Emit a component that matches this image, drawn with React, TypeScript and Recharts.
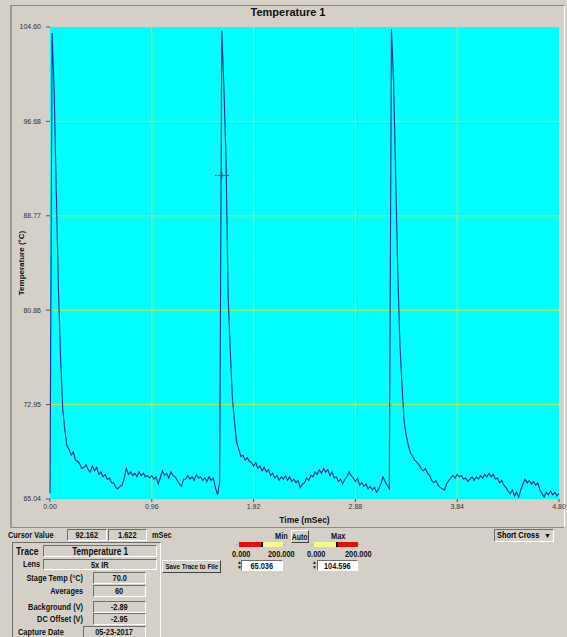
import React from 'react';
import { LineChart, Line, XAxis, YAxis, CartesianGrid, ReferenceDot } from 'recharts';

// trace samples, 0.02 ms apart
const timeMs = [
  0.0, 0.02, 0.04, 0.06, 0.08, 0.1, 0.12, 0.14, 0.16, 0.18,
  0.2, 0.22, 0.24, 0.26, 0.28, 0.3, 0.32, 0.34, 0.36, 0.38,
  0.4, 0.42, 0.44, 0.46, 0.48, 0.5, 0.52, 0.54, 0.56, 0.58,
  0.6, 0.62, 0.64, 0.66, 0.68, 0.7, 0.72, 0.74, 0.76, 0.78,
  0.8, 0.82, 0.84, 0.86, 0.88, 0.9, 0.92, 0.94, 0.96, 0.98,
  1.0, 1.02, 1.04, 1.06, 1.08, 1.1, 1.12, 1.14, 1.16, 1.18,
  1.2, 1.22, 1.24, 1.26, 1.28, 1.3, 1.32, 1.34, 1.36, 1.38,
  1.4, 1.42, 1.44, 1.46, 1.48, 1.5, 1.52, 1.54, 1.56, 1.58,
  1.6, 1.62, 1.64, 1.66, 1.68, 1.7, 1.72, 1.74, 1.76, 1.78,
  1.8, 1.82, 1.84, 1.86, 1.88, 1.9, 1.92, 1.94, 1.96, 1.98,
  2.0, 2.02, 2.04, 2.06, 2.08, 2.1, 2.12, 2.14, 2.16, 2.18,
  2.2, 2.22, 2.24, 2.26, 2.28, 2.3, 2.32, 2.34, 2.36, 2.38,
  2.4, 2.42, 2.44, 2.46, 2.48, 2.5, 2.52, 2.54, 2.56, 2.58,
  2.6, 2.62, 2.64, 2.66, 2.68, 2.7, 2.72, 2.74, 2.76, 2.78,
  2.8, 2.82, 2.84, 2.86, 2.88, 2.9, 2.92, 2.94, 2.96, 2.98,
  3.0, 3.02, 3.04, 3.06, 3.08, 3.1, 3.12, 3.14, 3.16, 3.18,
  3.2, 3.22, 3.24, 3.26, 3.28, 3.3, 3.32, 3.34, 3.36, 3.38,
  3.4, 3.42, 3.44, 3.46, 3.48, 3.5, 3.52, 3.54, 3.56, 3.58,
  3.6, 3.62, 3.64, 3.66, 3.68, 3.7, 3.72, 3.74, 3.76, 3.78,
  3.8, 3.82, 3.84, 3.86, 3.88, 3.9, 3.92, 3.94, 3.96, 3.98,
  4.0, 4.02, 4.04, 4.06, 4.08, 4.1, 4.12, 4.14, 4.16, 4.18,
  4.2, 4.22, 4.24, 4.26, 4.28, 4.3, 4.32, 4.34, 4.36, 4.38,
  4.4, 4.42, 4.44, 4.46, 4.48, 4.5, 4.52, 4.54, 4.56, 4.58,
  4.6, 4.62, 4.64, 4.66, 4.68, 4.7, 4.72, 4.74, 4.76, 4.78,
  4.8,
];

const temperatureC = [
  65.5, 104.1, 99.0, 90.5, 82.5, 76.8, 72.6, 70.8, 69.5, 69.2,
  68.7, 69.0, 68.3, 68.2, 68.0, 67.6, 67.7, 67.9, 67.5, 67.3,
  67.8, 67.4, 67.7, 67.1, 67.3, 66.9, 67.1, 66.7, 66.8, 66.4,
  66.4, 66.0, 65.9, 66.1, 66.2, 66.8, 67.6, 67.1, 67.3, 67.0,
  67.2, 66.9, 67.3, 67.0, 67.2, 66.9, 67.0, 66.8, 67.0, 66.7,
  66.9, 66.3, 66.8, 67.4, 67.0, 67.2, 66.8, 67.3, 67.0, 66.9,
  66.6, 66.3, 66.1, 66.7, 66.7, 67.0, 66.7, 66.9, 66.6, 67.1,
  66.8, 66.9, 66.6, 66.8, 66.5, 66.9, 66.6, 66.8, 66.0, 65.4,
  66.4, 104.3, 99.5, 93.5, 82.0, 77.5, 73.5, 71.5, 69.8, 69.2,
  68.6, 68.7, 68.3, 68.5, 68.2, 68.1, 67.8, 68.1, 67.6, 67.8,
  67.4, 67.7, 67.3, 67.5, 67.0, 67.2, 66.8, 67.0, 66.6, 66.9,
  66.7, 67.0, 66.6, 66.9, 66.5, 66.7, 66.4, 66.6, 66.0, 66.3,
  66.4, 66.8, 66.6, 67.0, 66.9, 67.3, 67.1, 67.5, 67.2, 67.6,
  67.3, 67.5, 67.0, 67.3, 66.8, 66.9, 66.5, 66.7, 66.3, 66.7,
  66.9, 67.3, 67.0, 66.8, 66.5, 66.8, 66.2, 66.4, 66.1, 66.3,
  65.9, 66.1, 65.8, 66.0, 65.6, 65.9, 66.3, 66.9, 66.5, 66.2,
  65.9, 104.4, 100.0, 92.0, 84.0, 78.0, 74.5, 71.5, 70.3, 69.5,
  68.9, 68.6, 68.3, 68.1, 67.9, 67.6, 67.4, 67.6, 67.2, 67.0,
  66.6, 66.4, 66.6, 66.2, 66.0, 65.9, 65.8, 66.3, 66.6, 66.8,
  67.0, 66.8, 67.1, 66.9, 67.0, 66.7, 66.8, 66.5, 66.7, 66.9,
  66.6, 66.9, 66.7, 67.0, 66.8, 67.1, 66.9, 67.2, 66.9, 67.1,
  66.7, 66.8, 66.4, 66.6, 66.2, 66.0, 65.7, 65.5, 65.8, 65.3,
  65.6, 65.2, 65.8, 66.3, 66.7, 66.4, 66.6, 66.3, 66.5, 66.2,
  66.4, 65.8, 65.5, 65.2, 65.6, 65.4, 65.7, 65.4, 65.6, 65.3,
  65.5,
];

const xTicks = [0, 0.96, 1.92, 2.88, 3.84, 4.8];
const xTickLabels = ['0.00', '0.96', '1.92', '2.88', '3.84', '4.80'];
const yTicks = [65.04, 72.952, 80.864, 88.776, 96.688, 104.6];
const yTickLabels = ['65.04', '72.95', '80.86', '88.77', '96.68', '104.60'];

const cursorTemp = 92.162;
const cursorTime = 1.622;
const traceName = 'Temperature 1';
const lensName = '5x IR';
const traceFields = [
  { label: 'Stage Temp  (°C)', value: '70.0' },
  { label: 'Averages', value: '60' },
  { label: 'Background (V)', value: '-2.89' },
  { label: 'DC Offset (V)', value: '-2.95' },
];
const captureDate = '05-23-2017';
const scaleMin = '65.036';
const scaleMax = '104.596';
const sliderRange = ['0.000', '200.000'];

const chartData = timeMs.map((t, i) => ({ t, temp: temperatureC[i] }));

const FONT = '"Liberation Sans", Arial, sans-serif';
const BG = '#d4d0c8';
const SQUEEZE = 'scaleX(0.82)';

const sunken: React.CSSProperties = {
  position: 'absolute',
  boxSizing: 'border-box',
  borderTop: '1px solid #6e6e6e',
  borderLeft: '1px solid #6e6e6e',
  borderBottom: '1px solid #ffffff',
  borderRight: '1px solid #ffffff',
};
const raised: React.CSSProperties = {
  position: 'absolute',
  boxSizing: 'border-box',
  borderTop: '1px solid #ffffff',
  borderLeft: '1px solid #ffffff',
  borderBottom: '1px solid #404040',
  borderRight: '1px solid #404040',
  background: BG,
  display: 'flex',
  alignItems: 'center',
  justifyContent: 'center',
  fontWeight: 'bold',
  whiteSpace: 'nowrap',
  color: '#111',
};

// narrow bold text, like the old windows dialog font
function Txt({ x, y, children, size = 9, right }: any) {
  return (
    <div
      style={{
        position: 'absolute',
        left: right ? undefined : x,
        right: right ? 567 - x : undefined,
        top: y,
        fontSize: size,
        fontWeight: 'bold',
        lineHeight: '11px',
        whiteSpace: 'nowrap',
        color: '#111',
        transform: SQUEEZE,
        transformOrigin: right ? 'right center' : 'left center',
      }}
    >
      {children}
    </div>
  );
}

function Field({ x, y, w, h = 12, children, bg, size = 9 }: any) {
  return (
    <div
      style={{
        ...sunken,
        left: x,
        top: y,
        width: w,
        height: h,
        background: bg ?? 'transparent',
        fontSize: size,
        fontWeight: 'bold',
        display: 'flex',
        alignItems: 'center',
        justifyContent: 'center',
        color: '#111',
        whiteSpace: 'nowrap',
      }}
    >
      <span style={{ display: 'inline-block', transform: SQUEEZE }}>{children}</span>
    </div>
  );
}

function Slider({ x, colors }: { x: number; colors: string[] }) {
  return (
    <div style={{ position: 'absolute', left: x, top: 541, width: 50, height: 6, display: 'flex', alignItems: 'center' }}>
      <span style={{ fontSize: 6, color: '#999', width: 3 }}>‹</span>
      <div style={{ width: 22, height: 5, background: colors[0] }} />
      <div style={{ width: 2, height: 5, background: '#000' }} />
      <div style={{ width: 20, height: 5, background: colors[1] }} />
      <span style={{ fontSize: 6, color: '#999', width: 3 }}>›</span>
    </div>
  );
}

function Spinner({ x }: { x: number }) {
  return (
    <div style={{ position: 'absolute', left: x, top: 560, width: 4, height: 11, fontSize: 5, lineHeight: '5px', color: '#222' }}>
      ▲<br />▼
    </div>
  );
}

const CursorCross = (props: any) => {
  const { cx, cy } = props;
  return (
    <g stroke="#7a4a3a" strokeWidth={1}>
      <line x1={cx - 7} y1={cy} x2={cx + 7} y2={cy} />
      <line x1={cx} y1={cy - 3} x2={cx} y2={cy + 3} />
    </g>
  );
};

export default function App() {
  const fieldTops = [572, 585, 601, 613];
  return (
    <div style={{ position: 'fixed', left: 0, top: 0, width: 567, height: 637, background: BG, overflow: 'hidden', fontFamily: FONT }}>
      {/* chart frame */}
      <div style={{ position: 'absolute', left: 10, top: 5, width: 555, height: 523, boxSizing: 'border-box', borderTop: '1px solid #8a8a8a', borderLeft: '2px solid #9a9a9a', borderBottom: '1px solid #8a8a8a', borderRight: '1px solid #ffffff' }} />
      <div style={{ position: 'absolute', left: 0, width: 576, top: 6, textAlign: 'center', fontSize: 11, fontWeight: 'bold', color: '#111' }}>
        {traceName}
      </div>

      <div style={{ position: 'absolute', left: 0, top: 0 }}>
        <LineChart width={567} height={530} data={chartData} margin={{ top: 27, right: 8, bottom: 0, left: 0 }}>
          <CartesianGrid
            fill="#00ffff"
            stroke="#d2e034"
            horizontalValues={yTicks.slice(1, -1)}
            verticalValues={xTicks.slice(1, -1)}
          />
          <XAxis
            dataKey="t"
            type="number"
            domain={[0, 4.8]}
            ticks={xTicks}
            tickFormatter={(v: number, i: number) => xTickLabels[i]}
            height={31}
            axisLine={false}
            tickSize={3}
            tickMargin={2}
            tickLine={{ stroke: '#555' }}
            tick={{ fontSize: 7, fill: '#333', fontFamily: FONT }}
            label={{ value: 'Time (mSec)', position: 'insideBottom', offset: 7, style: { fontSize: 8.5, fontWeight: 'bold', fill: '#111', fontFamily: FONT } }}
          />
          <YAxis
            type="number"
            domain={[65.04, 104.6]}
            ticks={yTicks}
            tickFormatter={(v: number, i: number) => yTickLabels[i]}
            width={50}
            axisLine={false}
            tickSize={4}
            tickMargin={5}
            tickLine={{ stroke: '#555' }}
            tick={{ fontSize: 7, fill: '#333', fontFamily: FONT }}
            label={{ value: 'Temperature (°C)', angle: -90, position: 'center', dx: -4, style: { fontSize: 8, fontWeight: 'bold', fill: '#111', fontFamily: FONT } }}
          />
          <Line
            type="linear"
            dataKey="temp"
            stroke="#28289a"
            strokeWidth={1.1}
            dot={false}
            isAnimationActive={false}
          />
          <ReferenceDot x={cursorTime} y={cursorTemp} r={3} shape={CursorCross} ifOverflow="visible" />
        </LineChart>
      </div>

      {/* cursor row */}
      <Txt x={8} y={530}>Cursor Value</Txt>
      <Field x={67} y={529} w={40}>{cursorTemp.toFixed(3)}</Field>
      <Field x={108} y={529} w={39}>{cursorTime.toFixed(3)}</Field>
      <Txt x={152} y={530}>mSec</Txt>

      <Txt x={275} y={531}>Min</Txt>
      <div style={{ ...raised, left: 291, top: 530, width: 18, height: 13, fontSize: 8.5 }}>
        <span style={{ display: 'inline-block', transform: SQUEEZE }}>Auto</span>
      </div>
      <Txt x={331} y={531}>Max</Txt>

      <Slider x={236} colors={['#e01010', '#f8f890']} />
      <Slider x={311} colors={['#f8f890', '#e01010']} />
      <Txt x={232} y={549}>{sliderRange[0]}</Txt>
      <Txt x={268} y={549}>{sliderRange[1]}</Txt>
      <Txt x={307} y={549}>{sliderRange[0]}</Txt>
      <Txt x={345} y={549}>{sliderRange[1]}</Txt>
      <Spinner x={237} />
      <Field x={241} y={560} w={42} h={11} bg="#ffffff">{scaleMin}</Field>
      <Spinner x={312} />
      <Field x={317} y={560} w={41} h={11} bg="#ffffff">{scaleMax}</Field>

      <div style={{ ...raised, left: 162, top: 560, width: 59, height: 13, fontSize: 8 }}>
        <span style={{ display: 'inline-block', transform: 'scaleX(0.78)' }}>Save Trace to File</span>
      </div>

      <div style={{ ...sunken, left: 494, top: 529, width: 60, height: 13, background: BG, fontSize: 9, fontWeight: 'bold', lineHeight: '11px', paddingLeft: 2, whiteSpace: 'nowrap' }}>
        <span style={{ display: 'inline-block', transform: SQUEEZE, transformOrigin: 'left center' }}>Short Cross</span>
        <span style={{ position: 'absolute', right: 2, top: 0, fontSize: 7 }}>▼</span>
      </div>

      {/* trace panel */}
      <div style={{ ...sunken, left: 12, top: 542, width: 149, height: 110 }} />
      <Txt x={16} y={546} size={10.5}>Trace</Txt>
      <Field x={43} y={545} w={114} size={10}>{traceName}</Field>
      <Txt x={23} y={559}>Lens</Txt>
      <Field x={43} y={559} w={114} h={11}>{lensName}</Field>
      {traceFields.map((f, i) => (
        <React.Fragment key={f.label}>
          <Txt x={83} y={fieldTops[i] + 1} right>{f.label}</Txt>
          <Field x={93} y={fieldTops[i]} w={53}>{f.value}</Field>
        </React.Fragment>
      ))}
      <Txt x={18} y={627}>Capture Date</Txt>
      <Field x={83} y={626} w={63}>{captureDate}</Field>
    </div>
  );
}
